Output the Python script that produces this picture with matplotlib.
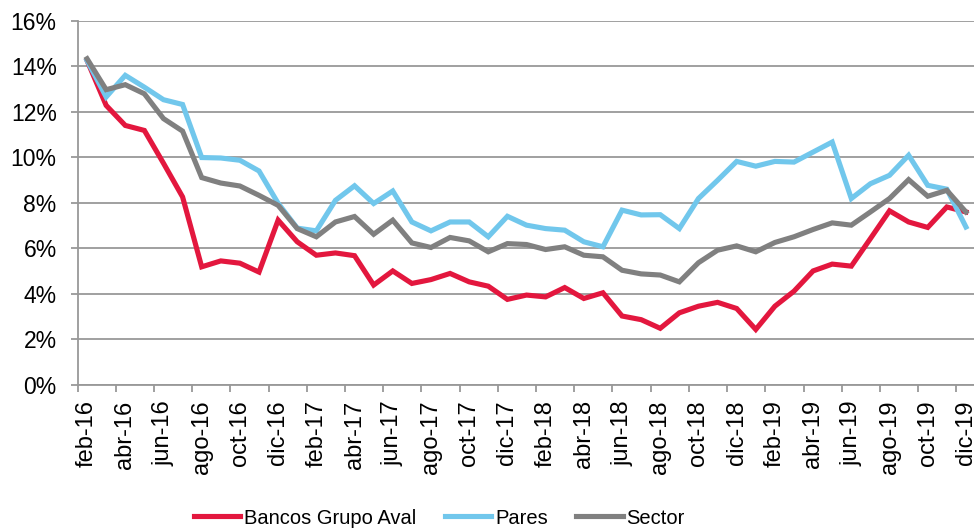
import matplotlib
matplotlib.use("Agg")
import matplotlib.pyplot as plt
from matplotlib.ticker import FixedLocator, FuncFormatter

plt.rcParams['font.family'] = ['Liberation Sans', 'DejaVu Sans']

months = ["ene", "feb", "mar", "abr", "may", "jun", "jul", "ago", "sep", "oct", "nov", "dic"]
categories = [f"{months[m]}-{y}" for y in (16, 17, 18, 19) for m in range(12)][1:]

aval = [14.25, 12.28, 11.40, 11.18, 9.74, 8.26, 5.19, 5.45, 5.35, 4.96,
        7.24, 6.29, 5.70, 5.80, 5.68, 4.39, 5.01, 4.46, 4.63, 4.90,
        4.53, 4.34, 3.76, 3.95, 3.87, 4.28, 3.80, 4.05, 3.03, 2.87,
        2.49, 3.17, 3.46, 3.63, 3.36, 2.44, 3.46, 4.12, 5.01, 5.31,
        5.22, 6.43, 7.65, 7.16, 6.92, 7.82, 7.60]
pares = [14.25, 12.65, 13.60, 13.08, 12.53, 12.32, 9.99, 9.97, 9.87, 9.40,
         7.98, 6.89, 6.77, 8.11, 8.75, 7.97, 8.52, 7.16, 6.77, 7.16,
         7.16, 6.51, 7.41, 7.02, 6.87, 6.80, 6.29, 6.07, 7.68, 7.47,
         7.48, 6.87, 8.19, 8.99, 9.82, 9.61, 9.82, 9.79, 10.23, 10.67,
         8.19, 8.84, 9.21, 10.09, 8.77, 8.60, 6.94]
sector = [14.33, 12.97, 13.19, 12.79, 11.70, 11.15, 9.11, 8.87, 8.74, 8.33,
          7.89, 6.87, 6.51, 7.16, 7.40, 6.62, 7.24, 6.24, 6.04, 6.48,
          6.33, 5.85, 6.21, 6.17, 5.95, 6.07, 5.70, 5.63, 5.04, 4.88,
          4.83, 4.53, 5.37, 5.92, 6.11, 5.85, 6.26, 6.51, 6.83, 7.12,
          7.02, 7.60, 8.19, 9.02, 8.29, 8.55, 7.60]
series_names = ["Bancos Grupo Aval", "Pares", "Sector"]
colors = ["#E3173E", "#71C7EC", "#808080"]

W, H = 974, 532
fig = plt.figure(figsize=(W / 100, H / 100), dpi=100)
ax = fig.add_axes([77.5 / W, 1 - 385 / H, (975.5 - 77.5) / W, (385 - 20.7) / H])

x = list(range(len(categories)))
for vals, name, c in zip([aval, pares, sector], series_names, colors):
    ax.plot(x, vals, color=c, lw=3.7, label=name, solid_joinstyle='miter', zorder=3)

ax.set_xlim(-0.5, len(categories) - 0.5)
ax.set_ylim(0, 16)
ax.set_yticks(range(0, 17, 2))
ax.yaxis.set_major_formatter(FuncFormatter(lambda v, p: f"{int(v)}%"))
ax.grid(axis='y', color='#999999', lw=1.3, zorder=0)

ax.xaxis.set_major_locator(FixedLocator([i - 0.5 for i in range(0, len(categories) + 1, 2)]))
ax.xaxis.set_minor_locator(FixedLocator(list(range(0, len(categories), 2))))
ax.set_xticklabels([])
ax.set_xticklabels([categories[i] for i in range(0, len(categories), 2)], minor=True, rotation=90)
ax.tick_params(axis='x', which='major', length=5, width=1.3, color='#999999', direction='out')
ax.tick_params(axis='x', which='minor', length=0, labelsize=17, pad=11)
ax.tick_params(axis='y', length=5, width=1.3, color='#999999', labelsize=16.5, pad=10)

for s in ['top', 'right']:
    ax.spines[s].set_visible(False)
for s in ['left', 'bottom']:
    ax.spines[s].set_color('#999999')
    ax.spines[s].set_linewidth(1.3)

fig.legend(loc='center', bbox_to_anchor=(439.5 / W, 1 - 518 / H), ncol=3, frameon=False,
           fontsize=14.5, handlelength=2.3, handletextpad=0.2, columnspacing=1.4)

fig.savefig("out.png", dpi=100)
